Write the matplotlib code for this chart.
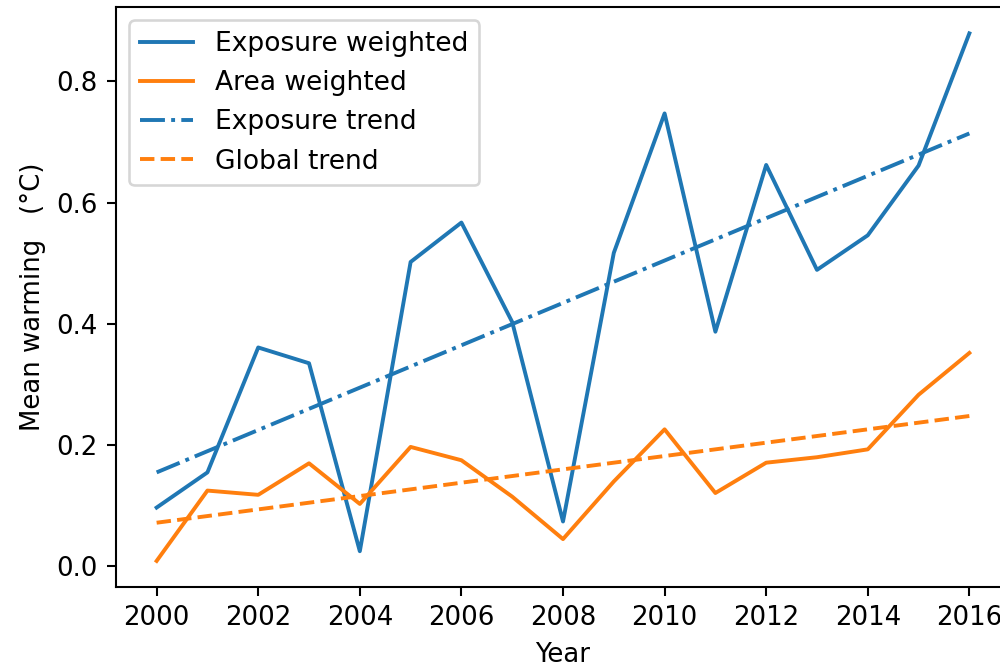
import numpy as np
import matplotlib
matplotlib.use('Agg')
import matplotlib.pyplot as plt

# Values
years = np.arange(2000, 2017)
exposure_weighted = [0.097, 0.155, 0.361, 0.335, 0.025, 0.502, 0.567, 0.403, 0.074,
                     0.517, 0.747, 0.387, 0.662, 0.489, 0.546, 0.661, 0.879]
area_weighted = [0.009, 0.125, 0.118, 0.170, 0.103, 0.197, 0.175, 0.115, 0.045,
                 0.140, 0.226, 0.121, 0.171, 0.180, 0.193, 0.283, 0.352]

# Trend lines (end points)
trend_years = [2000, 2016]
exposure_trend = [0.155, 0.714]
global_trend = [0.072, 0.248]

dpi = 187
fig = plt.figure(figsize=(1001 / dpi, 669 / dpi), dpi=dpi)
ax = fig.add_axes([116 / 1001, 81.7 / 669, 894 / 1001, 580.3 / 669])

ax.plot(years, exposure_weighted, color='#1f77b4', label='Exposure weighted')
ax.plot(years, area_weighted, color='#ff7f0e', label='Area weighted')
ax.plot(trend_years, exposure_trend, '-.', color='#1f77b4', label='Exposure trend')
ax.plot(trend_years, global_trend, '--', color='#ff7f0e', label='Global trend')

ax.set_xticks(np.arange(2000, 2017, 2))
ax.set_yticks([0.0, 0.2, 0.4, 0.6, 0.8])
ax.set_xlabel('Year')
ax.set_ylabel('Mean warming   (°C)')
ax.legend(loc='upper left', fontsize=10.2, handletextpad=0.85)

fig.savefig('out.png', dpi=dpi)
